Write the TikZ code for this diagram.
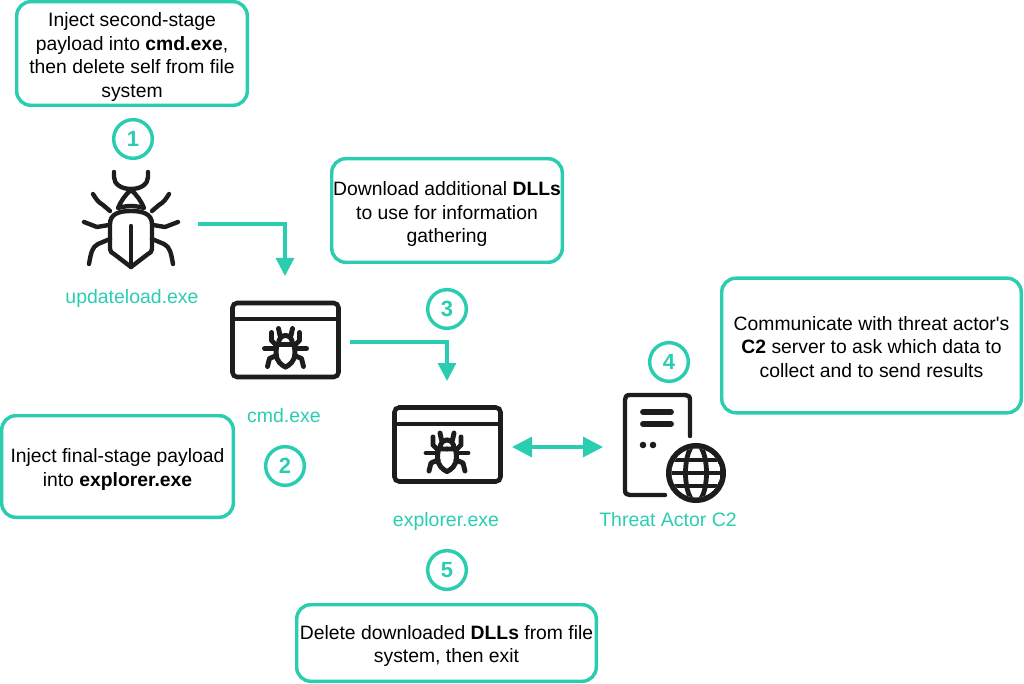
\documentclass[tikz,border=0pt]{standalone}
\usepackage{fontspec}
\setmainfont{Liberation Sans}
\usetikzlibrary{arrows.meta}
\definecolor{teal}{HTML}{2BCDB1}
\definecolor{ink}{HTML}{1D1D1B}
% Taller first line: pushes a note's text block down inside its frame
\newcommand\lift[1]{\rule{0pt}{#1pt}}
\tikzset{
  x=0.75pt, y=-0.75pt,
  note/.style 2 args={draw=teal, line width=2.6pt, rounded corners=10.5pt, align=center,
    minimum width=#1*0.75pt-2.6pt, minimum height=#2*0.75pt-2.6pt, inner sep=0pt,
    font=\fontsize{14.5}{17.6}\selectfont, text=black},
  numdot/.style={circle, draw=teal, line width=2.6pt, minimum size=29pt, inner sep=0pt,
    text=teal, font=\fontsize{16.5}{18}\selectfont\bfseries},
  caption/.style={text=teal, inner sep=0pt, font=\fontsize{14.6}{16}\selectfont},
  flow/.style={draw=teal, line width=2.3pt, -{Triangle[length=13.5pt,width=13.5pt]}},
  twoway/.style={draw=teal, line width=2.3pt, {Triangle[length=15pt,width=15pt]}-{Triangle[length=15pt,width=15pt]}},
  glyph/.style={draw=ink, line width=3.3pt, line cap=round, line join=round},
  heavy/.style={glyph, line width=3.7pt},
  winbox/.style={draw=ink, line width=3.4pt, rounded corners=3.5pt, inner sep=0pt,
    minimum width=79.5pt, minimum height=55.5pt},
  pics/bigbug/.style={code={
    \foreach \s in {1,-1}{
      \begin{scope}[xscale=\s]
        \draw[glyph] (0,-16) .. controls (10,-16) and (21,-14) .. (21,-3) -- (21,22) .. controls (21,25) and (19,26) .. (17,27) -- (0,40);
        \draw[glyph] (0,-21) .. controls (5,-21) and (9,-20) .. (13,-19) .. controls (10,-26) and (6,-32) .. (0,-37);
        \draw[glyph] (17,-55) -- (17,-50) .. controls (17,-43) and (10,-38) .. (0,-38);
        \draw[glyph] (21,-16) -- (28,-22) .. controls (33,-25) and (35,-28) .. (38,-33);
        \draw[glyph] (22,-2) -- (34,0) -- (47,-5);
        \draw[glyph] (21,12) -- (33,17) .. controls (39,20) and (40,26) .. (42,37);
      \end{scope}}
    \draw[glyph] (0,-1) -- (0,38);
  }},
  pics/smallbug/.style={code={
    \foreach \s in {1,-1}{
      \begin{scope}[xscale=\s]
        \draw[heavy] (0,-4) -- (9,-4) -- (9.5,5) .. controls (9.5,12) and (4,17) .. (0,18.5);
        \draw[heavy] (7,-4) .. controls (7,-10) and (4,-13) .. (0,-13);
        \draw[heavy] (7,-20) -- (5.5,-13);
        \draw[heavy] (9,-3) -- (14,-8) -- (14,-16);
        \draw[heavy] (9,0) -- (21,0);
        \draw[heavy] (9,7) -- (16,10) -- (18,18);
      \end{scope}}
  }}
}
\begin{document}
\begin{tikzpicture}
\useasboundingbox (0,0) rectangle (1024,684);

% Explanatory notes
\node[note={234}{107}] (noteA) at (132,53.5) {\lift{16}Inject second-stage\\payload into \textbf{cmd.exe},\\then delete self from file\\system};
\node[note={234}{107}] (noteB) at (447,210.5) {\lift{16}Download additional \textbf{DLLs}\\to use for information\\gathering};
\node[note={303}{138}] (noteC) at (871.5,345.5) {\lift{12.5}Communicate with threat actor\textquotesingle s\\\textbf{C2} server to ask which data to\\collect and to send results};
\node[note={235}{105}] (noteD) at (117.5,466.5) {\lift{15}Inject final-stage payload\\into \textbf{explorer.exe}};
\node[note={303}{80}] (noteE) at (446.5,643) {\lift{15}Delete downloaded \textbf{DLLs} from file\\system, then exit};

% Step numbers
\node[numdot] (n1) at (133,139) {1};
\node[numdot] (n2) at (285,466) {2};
\node[numdot] (n3) at (447,309) {3};
\node[numdot] (n4) at (669,362) {4};
\node[numdot] (n5) at (447,570) {5};

% Dropper icon
\pic at (131,227) {bigbug};
\node[caption] (lab1) at (132,298) {updateload.exe};

% Process windows
\node[winbox] (win1) at (285.5,340) {};
\draw[glyph, line cap=butt] (win1.west |- 0,319) -- (win1.east |- 0,319);
\pic at (285.5,348.5) {smallbug};
\node[caption] (lab2) at (284,416) {cmd.exe};

\node[winbox] (win2) at (447.5,444.5) {};
\draw[glyph, line cap=butt] (win2.west |- 0,424) -- (win2.east |- 0,424);
\pic at (447,453) {smallbug};
\node[caption] (lab3) at (446,521) {explorer.exe};

% C2 server with globe
\draw[glyph] (690,436) -- (690,400) .. controls (690,396) and (688,395) .. (685,395)
  -- (630,395) .. controls (626,395) and (625,397) .. (625,400)
  -- (625,490) .. controls (625,494) and (627,495) .. (630,495) -- (665,495);
\draw[glyph, line width=4.4pt] (643,412) -- (671,412) (643,424) -- (671,424);
\fill[ink] (643,445) circle[radius=3.3] (653,445) circle[radius=3.3];
\node[circle, fill=ink, minimum size=45pt, inner sep=0pt] (globe) at (696,473) {};
\begin{scope}
  \clip (696,473) circle[radius=24.5];
  \fill[white] (696,473) circle[radius=24.5];
  \draw[ink, line width=3.6pt] (666,460) -- (726,460) (666,473) -- (726,473) (666,486) -- (726,486);
  \draw[ink, line width=3.6pt] (696,473) ellipse[x radius=10.5, y radius=29];
\end{scope}
\node[caption] (lab4) at (668,520) {Threat Actor C2};

% Connectors
\coordinate (a1s) at (198,224);
\coordinate (a1e) at (285,276);
\coordinate (a2s) at (350,342);
\coordinate (a2e) at (447,381);
\coordinate (a3s) at (512,447);
\coordinate (a3e) at (603,447);
\draw[flow] (a1s) -| (a1e);
\draw[flow] (a2s) -| (a2e);
\draw[twoway] (a3s) -- (a3e);
\end{tikzpicture}
\end{document}
